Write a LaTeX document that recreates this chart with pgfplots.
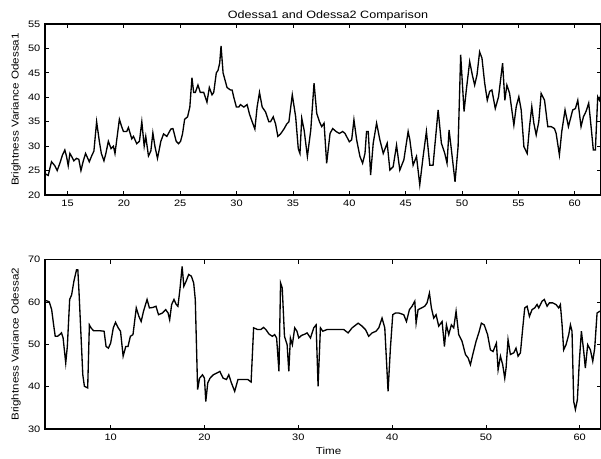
\documentclass[border=0pt]{standalone}
\usepackage{pgfplots}
\pgfplotsset{compat=1.18}
\usepackage{fontspec}
\setmainfont{Liberation Sans}
\newcommand{\wide}[1]{\scalebox{1.18}[1]{#1}}
\begin{document}
\begin{tikzpicture}
\useasboundingbox (0,0) rectangle (450.75pt,343.5pt);
\pgfplotsset{
  every axis/.append style={
    scale only axis,
    width=417pt,
    axis line style={line width=0.8pt},
    tick align=inside,
    tick pos=both,
    major tick length=3pt,
    every tick/.style={line width=0.6pt,black},
    font=\fontsize{7}{8.5}\selectfont,
    /pgf/number format/assume math mode=true,
    ticklabel style={font=\fontsize{7}{8.5}\selectfont},
    xticklabel={\wide{\pgfmathprintnumber{\tick}}},
    yticklabel={\wide{\pgfmathprintnumber{\tick}}},
    clip=true,
  }
}
\begin{axis}[
  at={(33.75pt,197.25pt)}, anchor=south west,
  height=128.25pt,
  xmin=13, xmax=62.33, ymin=20, ymax=55,
  xtick={15,20,...,60}, ytick={20,25,...,55},
  title={\scalebox{1.18}[1]{Odessa1 and Odessa2 Comparison}},
  title style={at={(axis description cs:0.509,1)},anchor=base,yshift=-1.5pt,font=\fontsize{8}{9}\selectfont},
  ylabel={\scalebox{1.16}[1]{Brightness Variance Odessa1}},
  ylabel style={at={(axis description cs:-0.052,0.5)},anchor=center,font=\fontsize{7.5}{9}\selectfont},
]
\addplot[black,line width=1pt] coordinates {
(12.98,24.4)(13.28,24)(13.58,26.8)(13.87,26)(14.08,25)(14.32,26.5)(14.55,28.2)(14.76,29.2)(14.91,27.9)(15.06,26)(15.21,28.5)(15.36,27.9)(15.56,27)(15.80,27.5)(16.0,27.3)(16.19,25)(16.40,27)(16.60,28.5)(16.93,26.8)(17.14,28)(17.34,29)(17.58,35)(17.82,31)(18.0,28.5)(18.23,27)(18.40,28.5)(18.62,31)(18.86,29.5)(19.07,30)(19.21,28.5)(19.60,35.5)(19.80,34)(19.96,33)(20.25,33)(20.40,33.8)(20.70,31.5)(20.85,32)(21.14,30.5)(21.38,31)(21.59,35)(21.80,30)(21.94,32)(22.18,28)(22.39,29)(22.57,32.7)(22.75,30)(22.98,27.5)(23.28,31)(23.52,32.5)(23.81,32)(24.17,33.5)(24.35,33.6)(24.64,31)(24.85,30.5)(25.03,31)(25.20,32.5)(25.39,35.5)(25.65,36)(25.85,38)(26.04,44)(26.19,41)(26.34,41)(26.57,42.5)(26.78,41)(27.08,41)(27.37,39)(27.58,42)(27.82,40.5)(27.97,41)(28.20,45)(28.35,45.5)(28.50,47)(28.62,50.5)(28.80,45)(29.15,42)(29.45,41.5)(29.60,41.5)(29.75,40)(29.98,38)(30.19,38)(30.34,38.5)(30.64,38)(30.93,38.5)(31.15,36.5)(31.38,35)(31.62,33.5)(31.82,38)(32.03,41)(32.27,38)(32.57,37)(32.86,35)(33.01,35)(33.25,36)(33.46,34.5)(33.66,32)(33.90,32.5)(34.20,33.5)(34.44,34.5)(34.64,35)(34.94,40.5)(35.24,36)(35.47,29.5)(35.62,28.5)(35.78,35.7)(35.99,33.3)(36.28,27.9)(36.58,33.3)(36.87,42.9)(37.11,36.7)(37.35,35)(37.55,34)(37.76,34.7)(37.99,26.5)(38.29,32.6)(38.53,33.6)(38.82,33)(39.12,32.6)(39.41,33)(39.62,32.6)(40.0,30.9)(40.21,31.3)(40.41,35.4)(40.65,31.3)(40.94,27.9)(41.18,26.5)(41.39,28.5)(41.53,33)(41.68,33)(41.89,24.1)(42.12,30.6)(42.42,34.7)(42.71,31.3)(43.01,28.5)(43.36,30.6)(43.60,25.1)(43.89,25.8)(44.19,30.2)(44.48,25.1)(44.84,27.2)(45.22,33)(45.37,31.3)(45.66,26.1)(45.96,27.9)(46.25,22.1)(46.55,27.9)(46.84,33)(47.14,26.1)(47.43,26.1)(47.88,37.4)(48.17,30.6)(48.47,28.5)(48.67,26.5)(48.85,33.3)(49.06,29.2)(49.38,22.7)(49.65,29.9)(49.88,48.7)(50.18,37.1)(50.38,41.5)(50.68,47.3)(50.91,44.6)(51.12,42.5)(51.33,44.6)(51.56,49.3)(51.77,48)(52.01,42.9)(52.24,39.4)(52.45,41.2)(52.65,41.5)(52.95,37.7)(53.24,40.1)(53.60,47)(53.80,39.4)(53.98,42.5)(54.22,40.8)(54.60,34.3)(54.81,38.1)(55.04,40.1)(55.25,37.4)(55.49,29.9)(55.78,28.5)(55.99,34)(56.19,38.1)(56.37,34.7)(56.58,32.3)(56.81,35)(57.02,40.8)(57.32,39.4)(57.61,34)(57.91,34)(58.20,33.6)(58.35,32.6)(58.64,28.2)(58.85,33)(59.14,37.4)(59.44,34)(59.82,37.4)(60.06,37.7)(60.27,39.4)(60.56,34)(60.77,36)(61.00,37.1)(61.24,38.8)(61.45,34)(61.65,29.2)(61.83,29.2)(62.04,40.1)(62.19,39.4)(62.34,40.8)
};
\end{axis}
\begin{axis}[
  at={(33.75pt,21.75pt)}, anchor=south west,
  height=127pt,
  xmin=3, xmax=62.27, ymin=30, ymax=70,
  xtick={10,20,...,60}, ytick={30,40,...,70},
  ylabel={\scalebox{1.16}[1]{Brightness Variance Odessa2}},
  ylabel style={at={(axis description cs:-0.052,0.5)},anchor=center,font=\fontsize{7.5}{9}\selectfont},
  xlabel={\scalebox{1.16}[1]{Time}},
  xlabel style={at={(axis description cs:0.51,0)},anchor=center,yshift=-16.5pt,font=\fontsize{7.5}{9}\selectfont},
]
\addplot[black,line width=1pt] coordinates {
(3.0,60.3)(3.18,60.3)(3.46,60)(3.71,58.2)(3.92,54.6)(4.09,51.9)(4.34,51.9)(4.62,52.4)(4.76,52.7)(4.93,51.5)(5.21,45.6)(5.38,49.5)(5.63,60.6)(5.84,61.7)(6.08,64.9)(6.36,67.6)(6.50,67.6)(6.64,61.7)(6.85,51.5)(7.03,42.8)(7.20,40.1)(7.55,39.7)(7.73,54.6)(7.90,53.9)(8.18,53.2)(8.53,53.2)(8.88,53.2)(9.30,53.1)(9.51,49.5)(9.76,49.1)(10.0,50.3)(10.28,53.9)(10.52,55.2)(10.80,53.9)(11.05,53.1)(11.33,47.2)(11.61,49.5)(11.85,49.5)(12.10,51.9)(12.38,52.3)(12.73,58.6)(13.01,56.6)(13.25,55.4)(13.50,57.8)(13.88,60.6)(14.13,58.6)(14.48,58.7)(14.83,59)(15.10,57)(15.52,57.4)(15.87,58.2)(16.12,57.4)(16.29,55.8)(16.50,59.4)(16.75,60.6)(16.99,59.4)(17.17,59)(17.38,62.9)(17.62,68.4)(17.80,63.7)(18.04,64.9)(18.32,66.5)(18.60,66.1)(18.85,64.5)(19.02,60.6)(19.27,39.3)(19.48,42)(19.79,42.8)(20.0,42)(20.14,36.5)(20.35,40.9)(20.59,42)(20.94,42.8)(21.29,43.2)(21.64,43.6)(21.99,42)(22.34,41.7)(22.59,42.8)(22.87,40.9)(23.22,38.9)(23.57,41.7)(24.09,41.7)(24.62,41.7)(24.97,41.1)(25.24,53.9)(25.66,53.5)(26.01,53.5)(26.29,54)(26.54,53.5)(26.89,52.4)(27.24,51.9)(27.48,52.3)(27.69,51.5)(27.94,43.6)(28.11,64.5)(28.29,63.3)(28.53,51.9)(28.81,49.9)(28.99,43.6)(29.16,51.5)(29.37,49.9)(29.62,53.9)(29.86,53.1)(30.05,51.5)(30.34,52.1)(30.69,52.4)(30.94,52.7)(31.30,51.5)(31.65,53.9)(31.90,54.6)(32.11,40.1)(32.36,53.9)(32.61,53.1)(33.07,53.5)(33.61,53.5)(34.14,53.5)(34.85,53.5)(35.31,52.7)(35.74,53.9)(36.38,55)(36.80,54.3)(37.16,53.5)(37.51,51.9)(37.87,52.7)(38.29,53.1)(38.58,53.9)(38.93,56.2)(39.22,53.9)(39.57,38.9)(39.82,49.1)(40.07,57)(40.36,57.4)(40.71,57.4)(41.24,57)(41.53,55.4)(41.85,58.2)(42.13,59)(42.42,60.2)(42.56,55)(42.77,58.2)(43.13,58.6)(43.48,59)(43.73,59.8)(43.98,62.1)(44.19,58.6)(44.44,56.2)(44.69,57)(44.97,54.3)(45.33,55.4)(45.58,49.5)(45.79,54.6)(46.04,52.3)(46.32,54.6)(46.57,53.9)(46.82,57.8)(47.10,52.3)(47.46,50.7)(47.82,47.6)(48.10,46.8)(48.35,45.2)(48.60,47.6)(48.95,50.7)(49.24,52.7)(49.52,55)(49.82,54.6)(50.18,52.3)(50.48,48.7)(50.76,48.3)(51.12,50.3)(51.30,44)(51.55,47.2)(51.79,45.2)(52.01,42)(52.15,44.4)(52.36,51.1)(52.61,47.6)(52.97,48)(53.21,49.1)(53.43,47.2)(53.68,48)(53.93,53.9)(54.14,58.6)(54.39,59)(54.64,56.6)(54.92,58.2)(55.20,58.6)(55.45,59.4)(55.63,58.6)(55.99,60.2)(56.23,60.6)(56.52,59)(56.77,59.8)(57.12,59.8)(57.48,59.4)(57.76,58.6)(57.94,59.4)(58.12,54.6)(58.29,48.7)(58.54,49.9)(58.83,52.3)(59.01,54.6)(59.18,53.1)(59.36,36.5)(59.54,34.6)(59.75,36.9)(59.96,46)(60.18,53.1)(60.43,48.3)(60.60,44.4)(60.85,49.9)(61.14,48.7)(61.39,46)(61.60,49.1)(61.85,57.4)(62.13,57.8)(62.3,57.6)
};
\end{axis}
\end{tikzpicture}
\end{document}
